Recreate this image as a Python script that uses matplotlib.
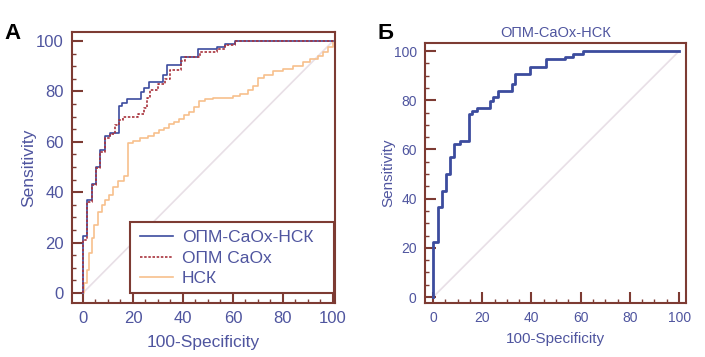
"""ROC curves: panel A compares three models, panel B shows the combined one."""

import matplotlib
matplotlib.use("Agg")
import matplotlib.pyplot as plt
from matplotlib.patches import Rectangle
from matplotlib.ticker import MultipleLocator

plt.rcParams["font.family"] = ["Liberation Sans", "DejaVu Sans"]

# ОПМ-CaOx-НСК (blue, same curve in both panels)
fpr_full = [0, 0, 1.8, 3.5, 5.2, 6.9, 8.7, 11.0, 14.4, 15.7, 17.7, 23.1, 24.5,
            26.5, 32.2, 33.5, 39.4, 46.1, 53.7, 57.0, 61.0, 100]
tpr_full = [0, 22.5, 36.7, 43.2, 50.0, 56.8, 62.2, 63.5, 74.4, 75.6, 77.0, 79.7,
            81.3, 83.7, 86.7, 90.5, 93.6, 96.8, 97.7, 98.8, 100, 100]

# ОПМ CaOx (red dotted)
fpr_caox = [0, 0, 1.8, 3.5, 5.2, 6.9, 8.7, 11.0, 13.0, 14.4, 16.0, 22.0, 24.5,
            25.5, 27.0, 30.0, 33.0, 35.0, 39.4, 41.0, 47.0, 53.7, 57.0, 61.0, 100]
tpr_caox = [0, 21.0, 36.0, 43.0, 49.5, 56.0, 61.5, 63.0, 66.5, 68.8, 70.0, 71.0,
            73.5, 77.5, 80.5, 83.0, 85.0, 88.5, 92.0, 93.5, 95.5, 97.0, 98.5, 100, 100]

# НСК (light orange)
fpr_nsk = [0, 0.5, 1.5, 2.5, 3.5, 4.5, 6.0, 7.5, 9.0, 10.5, 12.0, 14.0, 16.5,
           18.0, 20.0, 23.0, 26.0, 28.5, 30.5, 32.5, 34.5, 36.5, 38.5, 40.5,
           42.5, 44.5, 46.5, 49.0, 52.0, 56.0, 60.0, 63.0, 66.0, 68.0, 70.0,
           72.5, 76.0, 80.0, 84.0, 88.0, 91.0, 94.0, 96.0, 98.0, 100]
tpr_nsk = [0, 4, 9, 16, 22, 27, 32, 35, 37, 39, 42, 44.5, 46.5, 59.5, 60.5,
           61.5, 62.5, 63.5, 64.5, 65.5, 67, 68, 69, 70.5, 72, 74, 76, 77,
           77.5, 77.5, 78, 79, 80.5, 82, 85.5, 86.5, 88, 89, 90, 91.5, 93, 94,
           95.5, 97.5, 100]

labels = ["ОПМ-CaOx-НСК", "ОПМ CaOx", "НСК"]
ticks = [0, 20, 40, 60, 80, 100]

FRAME = "#7d3b33"
TEXT = "#4f559f"
BLUE = "#3c4c9e"
RED = "#a8323c"
ORANGE = "#f7c08c"
DIAG = "#e8dfe6"


def style_axis(axis, tick_size, label_size, xpad, ypad):
    for spine in axis.spines.values():
        spine.set_color(FRAME)
        spine.set_linewidth(1.5)
    axis.set_xticks(ticks)
    axis.set_yticks(ticks)
    axis.xaxis.set_minor_locator(MultipleLocator(5))
    axis.yaxis.set_minor_locator(MultipleLocator(5))
    axis.tick_params(which="major", direction="in", length=8, width=1.5,
                     color=FRAME, labelcolor=TEXT, labelsize=tick_size, pad=6)
    axis.tick_params(which="minor", direction="in", length=3, width=1.0,
                     color=FRAME)
    axis.set_xlabel("100-Specificity", color=TEXT, fontsize=label_size, labelpad=xpad)
    axis.set_ylabel("Sensitivity", color=TEXT, fontsize=label_size, labelpad=ypad)
    axis.plot([0, 100], [0, 100], color=DIAG, lw=1.2, zorder=1)


figure = plt.figure(figsize=(7.05, 3.57), dpi=100)
ax_a = figure.add_axes([0.1021, 0.1513, 0.3730, 0.7591])
ax_b = figure.add_axes([0.6028, 0.1513, 0.3702, 0.7283])

# Panel A
style_axis(ax_a, 12, 12.5, 6, 0)
ax_a.set_xlim(-4.4, 100.8)
ax_a.set_ylim(-4.0, 103.6)
ax_a.plot(fpr_nsk, tpr_nsk, drawstyle="steps-post", color=ORANGE, lw=1.2,
          zorder=2, label=labels[2])
ax_a.plot(fpr_full, tpr_full, drawstyle="steps-post", color=BLUE, lw=1.2,
          zorder=2, label=labels[0])
ax_a.plot(fpr_caox, tpr_caox, drawstyle="steps-post", color=RED, lw=1.2,
          linestyle=(0, (1.5, 1.0)), zorder=2, label=labels[1])
ax_a.add_patch(Rectangle((0.22, 0.037), 0.776, 0.263, transform=ax_a.transAxes,
                         facecolor="white", edgecolor=FRAME, lw=1.5, zorder=3))
handles, names = ax_a.get_legend_handles_labels()
order = [names.index(name) for name in labels]
legend = ax_a.legend([handles[i] for i in order], [names[i] for i in order],
                     loc="center left", bbox_to_anchor=(0.2586, 0.166),
                     frameon=False, fontsize=12.5, borderpad=0, borderaxespad=0,
                     handlelength=1.9, handletextpad=0.5, labelspacing=0.3)
legend.set_zorder(4)
for text in legend.get_texts():
    text.set_color(TEXT)

# Panel B
style_axis(ax_b, 10, 11, 5, -1)
ax_b.set_xlim(-3.3, 102.8)
ax_b.set_ylim(-2.4, 103.3)
ax_b.plot(fpr_full, tpr_full, drawstyle="steps-post", color=BLUE, lw=2.0, zorder=2)
ax_b.set_title("ОПМ-CaOx-НСК", color=TEXT, fontsize=10.5, pad=4)

figure.text(0.007, 0.905, "А", fontsize=16, fontweight="bold", va="center")
figure.text(0.536, 0.905, "Б", fontsize=16, fontweight="bold", va="center")

figure.savefig("out.png", dpi=100)
plt.close(figure)
